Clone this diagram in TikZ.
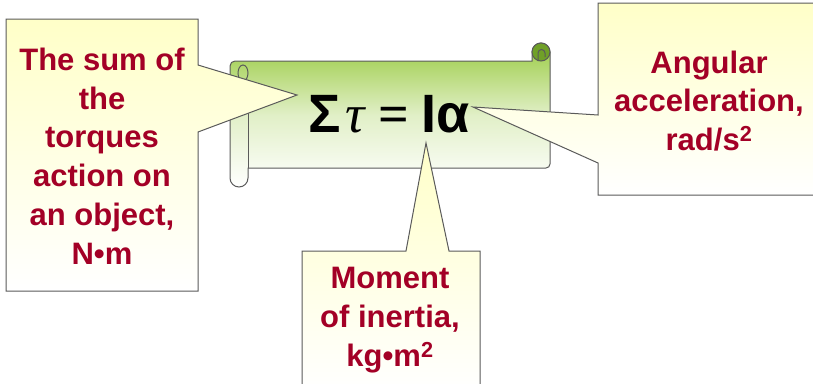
\documentclass[tikz,border=0pt]{standalone}
\usepackage{fontspec}
\setmainfont{Liberation Sans}
\newfontfamily\lawserif{Liberation Serif}
\definecolor{unitred}{RGB}{163,0,38}
\definecolor{scrollgreen}{RGB}{155,203,68}
\definecolor{curlgreen}{RGB}{112,160,40}
\definecolor{edgegray}{RGB}{90,90,90}
\definecolor{noteyellow}{RGB}{255,255,200}
\tikzset{
  note/.style={draw=edgegray,line width=1pt,top color=noteyellow,bottom color=white},
  notetext/.style={text=unitred,font=\fontsize{31}{38.8}\selectfont\bfseries,align=center}
}
\begin{document}
\begin{tikzpicture}[x=1pt,y=-1pt]
  \useasboundingbox (0,0) rectangle (813,383);
  % scroll
  \draw[edgegray,line width=1pt,top color=scrollgreen,bottom color=white,middle color=scrollgreen!30!white]
    (248,168) -- (546,168) arc[start angle=90,end angle=0,radius=4]
    -- (550,52) arc[start angle=0,end angle=-180,radius=9]
    -- (532,61) -- (235,61) arc[start angle=-90,end angle=-180,radius=5]
    -- (230,178) arc[start angle=180,end angle=0,radius=9] -- cycle;
  \draw[edgegray,line width=1pt] (248,80) -- (248,168);
  \draw[edgegray,line width=1pt] (243,73) ellipse[x radius=5,y radius=8];
  \draw[edgegray,line width=1pt,fill=curlgreen] (541,52) circle[radius=9];
  \draw[edgegray,line width=1pt] (538,61) -- (538,53) arc[start angle=180,end angle=360,radius=3.5] -- (545,57);
  \node[anchor=base,font=\fontsize{54}{60}\selectfont] (law) at (389,132)
    {\bfseries Σ\hspace{5pt}{\lawserif\mdseries\itshape τ}\hspace{14pt}{\lawserif =}\hspace{12pt}Iα};
  % callouts
  \coordinate (sumtip) at (297,95);
  \coordinate (alphatip) at (473,107);
  \coordinate (inertiatip) at (426,143);
  \draw[note] (6,19) -- (198,19) -- (198,65) -- (sumtip) -- (198,132) -- (198,291) -- (6,291) -- cycle;
  \draw[note] (598,3) -- (815,3) -- (815,195) -- (598,195) -- (598,163) -- (alphatip) -- (598,115) -- cycle;
  \draw[note] (302,251) -- (406,251) -- (inertiatip) -- (449,251) -- (480,251) -- (480,392) -- (302,392) -- cycle;
  \node[notetext] (sum) at (102,156) {The sum of\\the\\torques\\action on\\an object,\\N•m};
  \node[notetext] (alpha) at (709,101) {Angular\\acceleration,\\rad/s\textsuperscript{2}};
  \node[notetext] (inertia) at (390,320) {Moment\\of inertia,\\kg•m\textsuperscript{2}};
\end{tikzpicture}
\end{document}
